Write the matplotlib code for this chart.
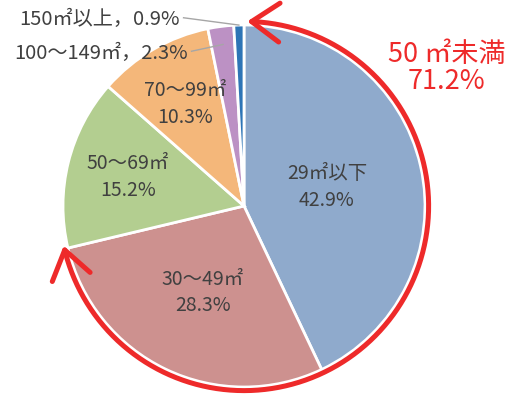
import matplotlib
matplotlib.use("Agg")
import matplotlib.pyplot as plt
import numpy as np
from matplotlib.patches import FancyArrowPatch
from matplotlib.path import Path

plt.rcParams["font.family"] = ["Noto Sans CJK JP", "DejaVu Sans"]

categories = ["29㎡以下", "30～49㎡", "50～69㎡", "70～99㎡", "100～149㎡", "150㎡以上"]
shares = [42.9, 28.3, 15.2, 10.3, 2.3, 0.9]
colors = ["#8FAACC", "#CD918F", "#B3CE90", "#F4B77A", "#BC91C4", "#2E75B6"]
total_label = "50 ㎡未満\n71.2%"
n_under_50 = 2  # first two slices make up the red arc

text_col = "#404040"

fig = plt.figure(figsize=(5.13, 3.94), dpi=100)
ax = fig.add_axes((0, 0, 1, 1))

wedges, _ = ax.pie(
    shares,
    colors=colors,
    startangle=90,
    counterclock=False,
    wedgeprops=dict(edgecolor="white", linewidth=2),
)

# inside labels, radius as fraction of the pie radius
label_r = [0.47, 0.53, 0.66, 0.65]
for w, name, val, r in zip(wedges, categories, shares, label_r):
    mid = np.deg2rad((w.theta1 + w.theta2) / 2)
    ax.text(
        r * np.cos(mid),
        r * np.sin(mid),
        f"{name}\n{val:.1f}%",
        ha="center",
        va="center",
        fontsize=14,
        color=text_col,
        linespacing=1.35,
    )

# small slices: text outside with a leader line
outside = [
    (4, (-0.31, 0.845), 0.9),
    (5, (-0.354, 1.03), 1.0),
]
for i, (tx, ty), r_end in outside:
    w = wedges[i]
    mid = np.deg2rad((w.theta1 + w.theta2) / 2)
    ax.plot(
        [tx + 0.02, r_end * np.cos(mid)],
        [ty + 0.01, r_end * np.sin(mid)],
        color="#A6A6A6",
        lw=1,
    )
    ax.text(
        tx,
        ty,
        f"{categories[i]}，{shares[i]:.1f}%",
        ha="right",
        va="center",
        fontsize=14.5,
        color=text_col,
    )

# red double arrow along the slices under 50 m2
a_start = 90 - 1.0
a_end = wedges[n_under_50 - 1].theta1 - 1.0
theta = np.deg2rad(np.linspace(a_start, a_end, 120))
r_arc = 1.02
verts = np.column_stack([r_arc * np.cos(theta), r_arc * np.sin(theta)])
arc = FancyArrowPatch(
    path=Path(verts),
    arrowstyle="<->,head_length=1.0,head_width=0.7",
    mutation_scale=20,
    color="#EE2A2A",
    lw=3.6,
    capstyle="round",
    joinstyle="round",
)
ax.add_patch(arc)

ax.text(
    1.12,
    0.76,
    total_label,
    ha="center",
    va="center",
    fontsize=19.5,
    color="#EE2A2A",
    linespacing=1.0,
)

ax.set_aspect("equal")
ax.set_xlim(-244 / 181, (513 - 244) / 181)
ax.set_ylim(-(394 - 206) / 181, 206 / 181)
ax.set_axis_off()

fig.savefig("out.png", dpi=100)
